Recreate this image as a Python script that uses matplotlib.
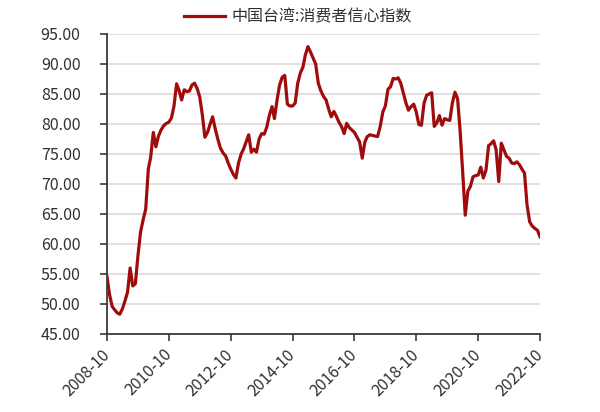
import numpy as np
import pandas as pd
import matplotlib
matplotlib.use('Agg')
import matplotlib.pyplot as plt

plt.rcParams['font.family'] = ['Noto Sans CJK SC', 'DejaVu Sans']

# monthly index, 2008-10 .. 2022-10
start_month = '2008-10'
cci = [54.5, 51.5, 49.6, 49.0, 48.5, 48.3, 49.2, 50.5, 52.0, 56.0,
       53.0, 53.4, 58.0, 62.0, 64.0, 65.8, 72.5, 74.5, 78.6, 76.2,
       78.0, 79.0, 79.7, 80.1, 80.3, 81.0, 83.0, 86.7, 85.5, 84.0,
       85.7, 85.4, 85.5, 86.5, 86.8, 85.9, 84.5, 81.5, 77.8, 78.6,
       80.0, 81.2, 79.2, 77.5, 76.0, 75.2, 74.7, 73.5, 72.5, 71.6,
       71.0, 73.5, 75.0, 75.8, 77.0, 78.2, 75.3, 75.8, 75.3, 77.5,
       78.4, 78.3, 79.5, 81.5, 82.9, 80.9, 84.0, 86.5, 87.8, 88.1,
       83.3, 83.0, 83.0, 83.5, 86.8, 88.5, 89.5, 91.5, 92.9, 92.0,
       91.0, 90.0, 86.8, 85.5, 84.6, 84.0, 82.5, 81.2, 82.1, 81.3,
       80.3, 79.6, 78.4, 80.1, 79.4, 79.0, 78.6, 77.8, 77.0, 74.3,
       77.0, 77.9, 78.2, 78.1, 78.0, 77.9, 79.6, 82.0, 83.0, 85.8,
       86.2, 87.6, 87.5, 87.7, 86.8, 85.2, 83.5, 82.3, 82.9, 83.3,
       82.0, 79.9, 79.8, 83.5, 84.8, 85.0, 85.2, 79.6, 80.2, 81.4,
       79.8, 80.9, 80.7, 80.6, 83.5, 85.3, 84.2, 79.0, 72.0, 64.8,
       68.8, 69.6, 71.2, 71.4, 71.5, 72.8, 71.0, 72.3, 76.4, 76.7,
       77.2, 75.7, 70.4, 76.8, 75.7, 74.6, 74.3, 73.5, 73.4, 73.7,
       73.2, 72.5, 71.8, 66.5, 63.7, 63.0, 62.6, 62.3, 61.2]
label = '中国台湾:消费者信心指数'
tick_years = list(range(2008, 2023, 2))

dates = pd.date_range(start_month, periods=len(cci), freq='MS')

fig = plt.figure(figsize=(6, 4.12), dpi=100)
ax = fig.add_axes([107/600, 1 - 334/412, 433/600, 300/412])

ax.plot(dates, cci, color='#a00c0c', lw=2.3, label=label)

ax.set_ylim(45, 95)
ax.set_yticks(np.arange(45, 96, 5))
ax.set_yticklabels(['%.2f' % v for v in np.arange(45, 96, 5)])
ax.yaxis.grid(True, color='#dadada', lw=1.2)
ax.set_axisbelow(True)

ticks = [pd.Timestamp('%d-10-01' % y) for y in tick_years]
ax.set_xlim(ticks[0], ticks[-1])
ax.set_xticks(ticks)
ax.set_xticklabels([t.strftime('%Y-%m') for t in ticks], rotation=45,
                   ha='right', va='center', rotation_mode='anchor')

for s in ['top', 'right']:
    ax.spines[s].set_visible(False)
for s in ['left', 'bottom']:
    ax.spines[s].set_color('#3a3a3a')
    ax.spines[s].set_linewidth(1.3)
ax.tick_params(axis='both', colors='#3a3a3a', labelcolor='#303030',
               length=5, width=1.2)
ax.tick_params(axis='y', labelsize=11.5, pad=14)
ax.tick_params(axis='x', labelsize=11.5, pad=8)

fig.legend(loc='center', bbox_to_anchor=(298/600, 1 - 17/412), frameon=False,
           fontsize=11.5, handlelength=2.6, handletextpad=0.4,
           labelcolor='#303030')

fig.savefig('out.png', dpi=100)
